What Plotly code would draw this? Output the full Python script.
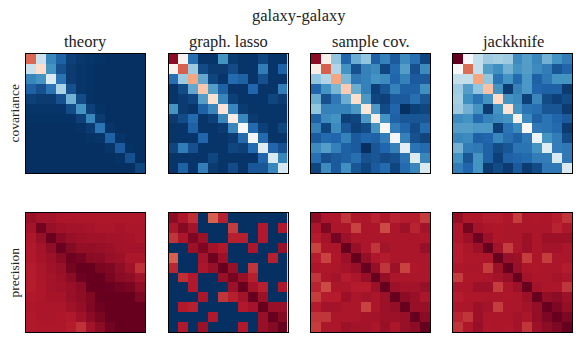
from plotly.subplots import make_subplots
import plotly.graph_objects as go

W, H = 581, 346

# colours are read as positions on a reversed RdBu map, 0 = dark blue, 1 = dark red
theory_cov = [
    [.79, .39, .17, .09, .03, .015, .01, .005, .00, .00, .00, .00],
    [.39, .59, .20, .06, .02, .01, .005, .00, .00, .00, .00, .00],
    [.17, .20, .43, .13, .02, .01, .005, .00, .00, .00, .00, .00],
    [.09, .06, .13, .34, .06, .01, .005, .00, .00, .00, .00, .00],
    [.03, .02, .02, .06, .26, .05, .005, .00, .00, .00, .00, .00],
    [.01, .01, .01, .01, .05, .20, .03, .005, .00, .00, .00, .00],
    [.005, .005, .005, .005, .005, .03, .17, .02, .00, .00, .00, .00],
    [.00, .00, .00, .00, .00, .005, .02, .13, .01, .00, .00, .00],
    [.00, .00, .00, .00, .00, .00, .005, .01, .09, .01, .00, .00],
    [.00, .00, .00, .00, .00, .00, .00, .00, .01, .08, .005, .00],
    [.00, .00, .00, .00, .00, .00, .00, .00, .00, .005, .06, .00],
    [.00, .00, .00, .00, .00, .00, .00, .00, .00, .00, .00, .04],
]
lasso_cov = [
    [.95, .52, .12, .01, .01, .20, .02, .01, .01, .04, .01, .01],
    [.52, .80, .32, .05, .02, .02, .05, .01, .01, .15, .01, .09],
    [.12, .32, .70, .24, .04, .01, .11, .09, .01, .06, .01, .01],
    [.01, .05, .24, .64, .22, .09, .01, .01, .10, .01, .01, .15],
    [.01, .02, .04, .22, .58, .17, .03, .01, .01, .01, .04, .02],
    [.20, .02, .01, .09, .17, .57, .17, .02, .01, .01, .01, .01],
    [.02, .05, .11, .01, .03, .17, .54, .17, .02, .01, .01, .01],
    [.01, .01, .09, .01, .01, .02, .17, .50, .11, .03, .01, .04],
    [.01, .01, .01, .10, .01, .01, .02, .11, .49, .11, .01, .01],
    [.04, .15, .06, .01, .01, .01, .04, .03, .11, .44, .10, .06],
    [.01, .01, .01, .01, .04, .01, .01, .01, .01, .10, .42, .17],
    [.01, .09, .01, .15, .02, .01, .05, .01, .07, .07, .17, .41],
]
sample_cov = [
    [.95, .53, .30, .10, .25, .30, .09, .16, .08, .18, .12, .04],
    [.53, .80, .35, .20, .06, .16, .18, .04, .11, .22, .06, .18],
    [.30, .35, .70, .27, .14, .16, .20, .18, .10, .16, .08, .08],
    [.10, .20, .27, .63, .25, .16, .03, .07, .16, .09, .09, .19],
    [.25, .06, .14, .25, .59, .21, .04, .03, .08, .08, .12, .07],
    [.30, .16, .16, .16, .21, .56, .21, .05, .10, .00, .03, .04],
    [.09, .18, .20, .03, .04, .21, .54, .20, .09, .07, .07, .07],
    [.16, .04, .18, .07, .03, .05, .20, .50, .15, .10, .05, .11],
    [.08, .11, .10, .16, .08, .10, .09, .15, .49, .16, .06, .04],
    [.18, .22, .16, .09, .08, .00, .07, .10, .16, .45, .13, .11],
    [.12, .06, .08, .09, .12, .06, .07, .05, .06, .13, .43, .17],
    [.04, .18, .08, .19, .07, .04, .08, .11, .04, .11, .17, .42],
]
jack_cov = [
    [1.0, .50, .38, .32, .33, .32, .18, .22, .17, .26, .20, .15],
    [.50, .78, .38, .22, .19, .26, .20, .22, .18, .15, .07, .10],
    [.38, .38, .70, .30, .13, .20, .11, .21, .09, .14, .20, .20],
    [.32, .22, .30, .65, .20, .02, .16, .21, .10, .09, .09, .02],
    [.33, .19, .13, .20, .60, .20, .18, .03, .17, .05, .03, .05],
    [.32, .26, .20, .02, .20, .57, .20, .13, .12, .07, .07, .02],
    [.18, .20, .11, .16, .18, .20, .53, .18, .09, .13, .10, .08],
    [.22, .22, .21, .21, .03, .13, .18, .50, .14, .13, .11, .02],
    [.17, .18, .09, .10, .17, .12, .09, .14, .47, .20, .15, .05],
    [.26, .15, .14, .09, .05, .07, .13, .13, .20, .44, .15, .14],
    [.20, .07, .20, .09, .03, .09, .10, .11, .15, .15, .42, .14],
    [.15, .10, .20, .02, .05, .02, .08, .02, .05, .14, .14, .42],
]
theory_prec = [
    [.935, .92, .92, .91, .91, .905, .905, .905, .905, .905, .905, .905],
    [.92, .985, .935, .925, .92, .92, .915, .91, .91, .915, .91, .91],
    [.905, .935, .995, .955, .935, .93, .925, .925, .92, .92, .915, .91],
    [.90, .92, .945, .995, .96, .94, .94, .935, .93, .92, .92, .92],
    [.90, .915, .93, .955, .99, .98, .955, .95, .935, .93, .91, .91],
    [.895, .91, .925, .935, .98, 1.0, 1.0, .975, .965, .945, .925, .865],
    [.895, .91, .92, .93, .95, .99, 1.0, 1.0, .975, .955, .945, .92],
    [.895, .905, .92, .925, .935, .95, 1.0, 1.0, .995, .985, .975, .945],
    [.90, .905, .915, .915, .935, .945, .965, 1.0, 1.0, 1.0, 1.0, .97],
    [.905, .91, .91, .91, .925, .94, .965, .99, 1.0, 1.0, 1.0, 1.0],
    [.90, .91, .91, .905, .90, .925, .95, .975, 1.0, 1.0, 1.0, 1.0],
    [.90, .905, .905, .905, .895, .865, .92, .95, .985, 1.0, 1.0, 1.0],
]
lasso_prec = [
    [.95, .91, .87, .00, .80, .89, .00, .00, .00, .00, .00, .00],
    [.91, .96, .92, .00, .00, .00, .85, .00, .00, .90, .00, .90],
    [.86, .91, .97, .93, .00, .00, .89, .89, .00, .90, .00, .00],
    [.00, .00, .93, .97, .92, .90, .00, .00, .91, .00, .00, .935],
    [.80, .00, .00, .92, .99, .93, .00, .00, .00, .00, .89, .00],
    [.88, .00, .00, .91, .935, 1.0, .935, .00, .86, .00, .00, .00],
    [.00, .87, .90, .00, .00, .935, .98, .935, .89, .00, .00, .00],
    [.00, .00, .90, .00, .00, .00, .93, 1.0, .92, .89, .00, .91],
    [.00, .00, .00, .91, .00, .86, .89, .92, 1.0, .93, .00, .00],
    [.00, .90, .89, .00, .00, .00, .00, .90, .92, 1.0, .935, .935],
    [.00, .00, .00, .00, .90, .00, .00, .00, .00, .935, 1.0, .96],
    [.00, .90, .00, .93, .00, .00, .00, .90, .00, .935, .96, 1.0],
]
sample_prec = [
    [.95, .91, .905, .86, .905, .905, .885, .905, .885, .895, .895, .85],
    [.91, .97, .91, .91, .84, .91, .91, .83, .91, .93, .885, .92],
    [.895, .92, .98, .93, .91, .91, .91, .91, .91, .91, .91, .905],
    [.84, .91, .91, 1.0, .935, .91, .86, .92, .91, .91, .91, .935],
    [.895, .84, .905, .93, 1.0, .94, .905, .895, .91, .91, .91, .91],
    [.91, .905, .91, .92, .935, 1.0, .94, .86, .93, .84, .905, .91],
    [.86, .91, .92, .895, .91, .935, 1.0, .94, .91, .91, .91, .91],
    [.885, .83, .91, .91, .895, .895, .93, 1.0, .93, .92, .92, .935],
    [.85, .895, .895, .93, .91, .92, .91, .93, 1.0, .95, .935, .91],
    [.895, .92, .92, .91, .91, .84, .91, .93, .94, 1.0, .935, .935],
    [.86, .86, .91, .91, .91, .92, .92, .93, .93, .935, 1.0, .95],
    [.85, .91, .91, .93, .92, .92, .91, .935, .91, .935, .95, 1.0],
]
jack_prec = [
    [.94, .905, .905, .895, .895, .905, .85, .91, .905, .91, .895, .86],
    [.905, .98, .92, .91, .905, .91, .91, .91, .91, .91, .885, .905],
    [.905, .93, .99, .93, .905, .91, .91, .93, .91, .93, .93, .93],
    [.895, .91, .93, 1.0, .92, .85, .91, .93, .91, .92, .92, .91],
    [.895, .905, .905, .91, 1.0, .935, .93, .85, .91, .85, .91, .91],
    [.905, .91, .91, .85, .93, 1.0, .935, .91, .905, .91, .91, .895],
    [.85, .905, .905, .91, .92, .935, 1.0, .92, .91, .91, .92, .91],
    [.91, .91, .93, .93, .85, .91, .93, 1.0, .92, .91, .91, .86],
    [.895, .905, .905, .91, .91, .905, .91, .93, 1.0, .94, .95, .93],
    [.91, .91, .93, .92, .85, .91, .91, .92, .94, 1.0, .97, .94],
    [.885, .86, .93, .91, .91, .91, .92, .91, .94, .97, 1.0, .97],
    [.86, .905, .935, .905, .91, .905, .92, .86, .93, .95, .97, 1.0],
]

column_titles = ["theory", "graph. lasso", "sample cov.", "jackknife"]
row_titles = ["covariance", "precision"]
main_title = "galaxy-galaxy"

rdbu_r = [
    "#053061", "#2166ac", "#4393c3", "#92c5de", "#d1e5f0", "#f7f7f7",
    "#fddbc7", "#f4a582", "#d6604d", "#b2182b", "#67001f",
]
colorscale = [[i / 10, c] for i, c in enumerate(rdbu_r)]

# panel edges in pixels
col_edges = [(26, 145), (168.5, 287.5), (311, 430), (453, 572)]
row_edges = [(54, 173), (213, 332)]
font = dict(family="Liberation Serif, serif", color="#222222")

grid = [
    [theory_cov, lasso_cov, sample_cov, jack_cov],
    [theory_prec, lasso_prec, sample_prec, jack_prec],
]

fig = make_subplots(rows=2, cols=4)
for r, row in enumerate(grid):
    for c, matrix in enumerate(row):
        fig.add_trace(
            go.Heatmap(
                z=matrix, zmin=0, zmax=1, colorscale=colorscale,
                showscale=False, hoverinfo="skip",
            ),
            row=r + 1, col=c + 1,
        )
        x0, x1 = col_edges[c]
        y0, y1 = row_edges[r]
        fig.update_xaxes(
            domain=[x0 / W, x1 / W], showticklabels=False, ticks="", showgrid=False,
            zeroline=False, showline=True, mirror=True, linecolor="black", linewidth=1,
            row=r + 1, col=c + 1,
        )
        fig.update_yaxes(
            domain=[1 - y1 / H, 1 - y0 / H], autorange="reversed", showticklabels=False,
            ticks="", showgrid=False, zeroline=False, showline=True, mirror=True,
            linecolor="black", linewidth=1, row=r + 1, col=c + 1,
        )

for c, title in enumerate(column_titles):
    fig.add_annotation(
        text=title, x=sum(col_edges[c]) / 2 / W, y=1 - 53 / H, xref="paper", yref="paper",
        xanchor="center", yanchor="bottom", showarrow=False, font=dict(size=16.5, **font),
    )
for r, title in enumerate(row_titles):
    fig.add_annotation(
        text=title, x=14 / W, y=1 - sum(row_edges[r]) / 2 / H, xref="paper", yref="paper",
        xanchor="center", yanchor="middle", textangle=-90, showarrow=False,
        font=dict(size=13.5, **font),
    )
fig.add_annotation(
    text=main_title, x=299 / W, y=1 - 27 / H, xref="paper", yref="paper",
    xanchor="center", yanchor="bottom", showarrow=False, font=dict(size=16.5, **font),
)

fig.update_layout(
    width=W, height=H, margin=dict(l=0, r=0, t=0, b=0),
    paper_bgcolor="white", plot_bgcolor="white", showlegend=False,
)

fig.write_html(
    "out.html", config={"displayModeBar": False},
    post_script="document.body.style.margin='0';",
)
